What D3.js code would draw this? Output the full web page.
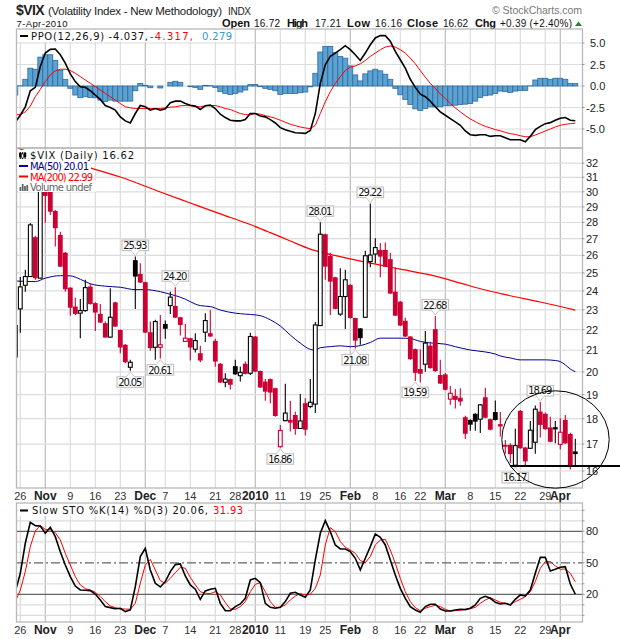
<!DOCTYPE html>
<html><head><meta charset="utf-8">
<script src="https://cdn.jsdelivr.net/npm/d3@7"></script>
<style>html,body{margin:0;padding:0;background:#fff}svg{display:block}</style>
</head><body><div id="c"></div>
<script>
// ---------- categories / ticks ----------
const firstDay = -1, lastDay = 111;          // trading-day numbers, 0 = 26 Oct 2009, 111 = 7 Apr 2010
const tickDays   = [0,5,10,15,20,25,29,34,39,43,47,52,57,61,66,71,76,80,85,90,95,100,105,108];
const tickLabels = ["26","Nov","9","16","23","Dec","7","14","21","28","2010","11","19","25","Feb","8","16","22","Mar","8","15","22","29","Apr"];
const majorLabels = ["Nov","Dec","2010","Feb","Mar","Apr"];
const priceTicks = [16,17,18,19,20,21,22,23,24,25,26,27,28,29,30,31,32];
const ppoTicks = [5,2.5,0,-2.5,-5];
const stoLight = [0,10,30,40,60,70,90,100];
const stoMajor = [80,50,20];

// ---------- candles (day 0 .. 111) ----------
const candleOpen = [23.05,24.31,24.79,27.09,24.70,30.40,30.13,28.74,27.23,26.16,24.18,23.17,22.83,22.96,24.24,23.35,22.79,22.32,21.63,23.39,21.98,21.26,20.21,25.72,24.94,24.48,21.87,21.14,21.14,22.28,23.22,23.20,22.62,21.42,21.58,21.05,20.86,21.87,21.82,21.45,20.37,19.54,19.68,20.26,19.83,20.37,19.94,21.66,20.04,19.57,19.68,19.28,16.90,17.92,17.95,18.15,17.61,18.64,18.50,18.60,22.20,27.27,25.97,24.75,22.78,23.70,24.33,22.58,22.06,22.62,25.64,26.08,26.32,26.32,25.78,23.96,23.43,22.44,21.66,21.05,20.13,20.35,21.22,22.02,19.86,19.89,18.81,18.95,18.87,18.06,17.95,18.20,17.98,18.89,17.98,18.27,17.78,16.97,16.97,16.21,18.32,16.87,16.84,17.07,18.29,18.20,17.65,17.66,16.99,17.95,17.39,16.72];
const candleHigh = [24.77,25.17,27.97,27.17,30.54,30.54,30.27,28.80,27.43,26.20,24.20,23.63,23.57,24.61,24.43,23.40,23.31,22.40,24.15,23.42,22.00,21.30,20.55,25.93,25.55,24.50,22.40,22.49,22.74,22.45,23.96,24.20,22.65,22.28,21.60,21.82,21.21,22.83,22.99,21.55,20.40,19.94,19.70,20.55,20.24,20.47,21.85,21.68,20.06,19.68,19.70,19.30,17.75,19.47,18.74,18.28,19.03,18.85,19.68,22.38,28.01,27.30,26.16,24.78,25.26,25.17,24.36,22.60,22.08,26.28,29.22,27.02,26.73,26.76,26.16,25.32,23.46,22.59,21.68,21.08,21.05,21.93,21.40,22.68,20.55,19.95,19.38,19.25,19.28,18.12,17.97,18.22,18.61,19.30,18.00,18.75,18.27,17.16,17.03,17.60,18.36,16.90,17.91,18.54,18.69,18.25,18.08,17.91,18.02,18.15,17.44,17.21];
const candleLow = [21.84,23.96,24.77,24.61,24.66,27.99,28.48,26.52,25.33,23.96,22.69,22.74,21.58,22.90,23.28,21.93,22.33,21.60,21.60,22.13,20.86,20.40,20.05,23.05,24.44,21.83,20.98,20.55,20.61,21.55,22.79,22.58,21.71,21.40,20.52,20.89,20.44,21.39,21.64,20.23,19.51,19.32,19.22,19.87,19.57,19.89,19.86,19.99,19.29,18.74,18.64,18.08,16.86,17.90,17.49,17.36,17.59,17.33,18.43,18.23,22.18,24.61,22.74,23.03,22.69,22.03,22.56,21.08,21.26,22.60,25.32,25.55,24.75,25.33,23.84,22.68,22.18,21.64,20.56,19.59,19.54,20.01,20.15,20.00,19.46,19.19,18.57,18.42,18.53,17.20,17.52,17.52,17.43,18.02,17.54,17.93,17.29,16.63,16.29,16.17,16.82,16.22,16.82,16.63,17.25,17.56,17.07,17.03,16.80,17.01,16.05,16.16];
const candleClose = [24.22,24.79,27.85,24.70,30.27,29.73,28.69,27.64,25.35,24.09,23.11,22.79,22.96,24.18,23.30,22.86,22.35,21.61,22.62,22.15,21.13,20.44,20.44,24.79,24.46,21.85,21.10,22.40,21.26,22.04,23.67,22.60,22.23,21.58,21.13,21.46,20.52,22.45,21.66,20.47,19.53,19.68,19.43,19.89,19.98,19.91,21.66,20.01,19.31,19.13,19.09,18.11,17.53,18.23,17.84,17.59,17.91,17.56,18.68,22.23,27.27,25.35,24.51,23.05,23.70,24.61,22.58,21.46,21.58,25.98,26.02,26.46,25.93,25.35,23.86,22.70,22.20,21.66,20.58,19.96,19.92,21.34,20.17,20.04,19.48,19.21,19.06,18.78,18.71,17.40,17.76,17.88,18.57,18.04,17.56,17.95,17.69,16.90,16.62,16.94,16.84,16.35,17.54,18.39,17.75,17.58,17.09,17.57,17.46,17.03,16.18,16.62];
// K = up on the day (black), R = down on the day (red)
const candleTone = "KKKRKRRRRR"+"RRKKRRRRKR"+"RRKKRRRKRK"+"KRRRRKRKRR"+"RKRKKRKRRR"+"RRRKRRKRKK"+"KRRRKKRRKK"+"KKRRRRRRRR"+"RKRRRRRRRR"+"KKKRRKRRRK"+"RRKKRRRKRRRK";
const stubWickDay = -0.6, stubWick = [22.23, 20.66];

// ---------- moving averages (read at these days) ----------
const ma50Days = [-1,0,3,5,8,10,12,14,17,20,23,25,28,30,31,33,35,36,38,40,43,45,47,48,50,52,54,56,58,59,60,62,64,66,68,70,72,76,78,80,82,85,87,90,93,95,96,98,100,105,107,108,109,110,111];
const ma50Values = [24.55,24.53,24.51,24.70,24.84,24.83,24.64,24.39,24.26,24.20,24.07,24.07,23.96,23.82,23.75,23.56,23.30,23.22,23.17,22.99,22.83,22.78,22.74,22.70,22.49,22.18,21.73,21.34,21.04,21.01,21.12,21.17,21.21,21.17,21.22,21.37,21.58,21.58,21.56,21.42,21.35,21.29,21.17,21.01,20.92,20.82,20.73,20.64,20.55,20.55,20.52,20.47,20.32,20.13,20.01];
const ma200Days = [-1,0,14,20,28,34,40,46,50,54,58,64,70,76,82,88,93,97,104,111];
const ma200Values = [33.19,33.04,31.66,31.02,29.99,29.26,28.55,27.87,27.37,26.86,26.37,25.93,25.55,25.21,24.88,24.43,24.05,23.80,23.41,22.99];

// ---------- PPO (day -1 .. 111) ----------
const ppoLine = [-4.22,-3.40,-2.42,-0.55,-0.16,2.27,3.83,4.26,4.30,3.63,2.66,1.41,0.51,-0.08,-0.16,-0.55,-1.05,-1.56,-2.27,-2.50,-2.81,-3.59,-4.06,-4.30,-3.20,-2.27,-2.42,-2.81,-2.62,-2.81,-2.66,-1.95,-1.76,-1.76,-2.03,-2.23,-2.34,-2.73,-2.30,-2.23,-2.62,-3.28,-3.67,-3.98,-4.06,-4.06,-3.91,-3.20,-3.20,-3.48,-3.59,-3.91,-4.30,-4.84,-5.08,-5.27,-5.43,-5.47,-5.51,-5.16,-3.20,0.31,2.46,3.44,3.83,4.22,4.69,4.22,3.63,2.97,3.83,4.80,5.59,5.86,5.86,5.20,4.02,3.05,2.07,0.78,-0.16,-0.94,-1.25,-1.76,-2.42,-3.01,-3.40,-3.79,-4.18,-4.57,-5.23,-5.66,-5.74,-5.66,-5.66,-5.86,-5.78,-5.78,-6.02,-6.25,-6.25,-6.25,-6.48,-5.86,-5.08,-4.69,-4.38,-4.26,-3.98,-3.75,-3.67,-3.98,-4.037];
const ppoSignal = [-3.32,-3.32,-3.01,-2.34,-1.25,-0.39,0.51,1.29,1.76,1.95,1.95,1.80,1.48,1.09,0.70,0.31,-0.08,-0.47,-0.86,-1.25,-1.64,-2.03,-2.42,-2.54,-2.62,-2.62,-2.62,-2.62,-2.62,-2.62,-2.54,-2.46,-2.42,-2.30,-2.27,-2.30,-2.38,-2.42,-2.30,-2.27,-2.27,-2.42,-2.62,-2.73,-2.97,-3.20,-3.32,-3.36,-3.20,-3.28,-3.44,-3.59,-3.75,-3.98,-4.22,-4.45,-4.61,-4.77,-4.88,-4.96,-4.57,-3.20,-1.84,-0.66,0.31,1.09,1.80,2.19,2.34,2.58,2.97,3.44,3.83,4.22,4.53,4.65,4.53,4.22,3.83,3.24,2.58,1.80,1.02,0.31,-0.27,-0.94,-1.45,-2.03,-2.54,-3.01,-3.44,-3.83,-4.14,-4.45,-4.69,-4.88,-5.08,-5.20,-5.39,-5.55,-5.63,-5.78,-5.90,-5.90,-5.70,-5.47,-5.23,-5.00,-4.77,-4.57,-4.45,-4.38,-4.317];
const ppoHist = [-1.05,0.02,0.78,2.07,1.95,3.36,3.63,3.63,2.97,1.80,0.78,-0.27,-1.05,-1.37,-1.25,-1.33,-1.37,-1.64,-1.80,-1.64,-1.76,-1.76,-1.76,-1.76,-0.55,0.31,0.08,-0.20,0.00,-0.23,0.00,0.43,0.55,0.43,0.00,-0.08,-0.16,-0.39,0.08,0.04,-0.16,-0.66,-0.86,-0.98,-0.86,-0.70,-0.47,0.16,0.16,-0.08,-0.27,-0.39,-0.55,-0.98,-0.86,-0.86,-0.86,-0.78,-0.70,-0.10,1.48,3.95,4.61,4.61,3.91,3.44,3.24,2.34,1.29,0.59,1.41,1.76,1.95,1.76,1.37,0.78,-0.27,-1.02,-1.56,-2.15,-2.66,-2.85,-2.62,-2.42,-2.42,-2.42,-2.30,-2.30,-2.23,-2.15,-2.11,-2.03,-1.76,-1.33,-1.13,-1.05,-0.86,-0.59,-0.66,-0.74,-0.59,-0.51,-0.51,0.02,0.70,0.90,0.90,0.78,0.90,0.90,0.78,0.31,0.279];

// ---------- Slow stochastic (day -1 .. 111) ----------
const stoK = [22.5,40,68.6,88.6,85.4,85.1,78.1,83.8,74.9,60.6,47.9,36.8,27.9,24.1,23.8,23.5,20.3,14.6,8.3,7.3,6.3,6.7,3.5,5.1,27.3,55.9,63.8,43.2,30.5,27,32.1,41.6,48.3,48.9,37.5,28.9,24.8,15.2,23.2,24.8,25.7,11.4,4.4,4.4,8.3,10.8,16.2,33.7,35.2,31.1,11.4,7.6,6.7,7.6,13,21,21.9,19.4,17.1,24.1,52.7,78.1,90.2,79.7,67,63.2,63.2,60.6,54.3,43.2,54.3,65.4,77.5,74.3,67,52.7,38.4,25.7,16.2,8.3,5.1,2.9,8.3,10.5,10.5,6,4.1,4.1,5.1,5.7,5.4,6.7,9.8,16.2,18.1,16.2,12.4,10.8,11.4,9.8,15.2,19.4,18.4,24.1,40,55.2,55.2,42.2,43.8,45.7,46.3,29.8,20.06];
const stoD = [13,24,41.6,65.4,80.3,85.4,81.9,81.3,78.7,71.7,59,47.9,36.8,28.9,25.4,24.1,21.9,17.8,13,8.9,7.3,6,6,5.7,11.4,30.5,47.9,53.3,43.2,33,30.5,35.2,40.6,45.7,44.8,36.2,28.9,22.5,21,20.6,22.5,19.4,12.1,6,5.7,8.3,13,22.5,29.5,31.1,22.5,13,7.6,7.6,9.8,14.6,18.4,20.6,19.4,20,25.7,38.4,67,83.5,79.7,70.2,64.8,62.2,59,52.1,50.2,55.9,67,71.7,72.4,62.2,49.5,35.2,22.5,13,7.3,4.4,6.7,8.3,9.5,8.3,5.7,4.1,4.4,4.8,5.7,6.3,7.6,11.4,14.6,16.8,14.6,12.4,11.4,10.2,13,15.2,17.8,22.5,32.1,44.8,51.1,51.1,47,43.8,44.1,40,31.93];

// ---------- price callouts ----------
const calloutDays = [23,31,22,28,52,60,70,67,83,79,104,99];
const calloutText = ["25.93","24.20","20.05","20.61","16.86","28.01","29.22","21.08","22.68","19.59","18.69","16.17"];
const calloutAbove = [true,true,false,false,false,true,true,false,true,false,true,false];

// ---------- colours ----------
const RED="#ff0000", CANDLE_RED="#cc0033", NAVY="#000099", GRID="#dcdcdc", GRID_M="#bdbdbd", FRAME="#b8b8b8";

const W=620,H=639, L=17, R=582;
const svg=d3.select("#c").append("svg").attr("width",W).attr("height",H).attr("viewBox",`0 0 ${W} ${H}`);
const sans="'Liberation Sans',Arial,sans-serif", dv="'DejaVu Sans',Verdana,sans-serif";
const x=d3.scaleLinear().domain([0,111]).range([20.3,575.3]);
const days=d3.range(firstDay,lastDay+1);
const yP=d3.scaleLinear().domain([-5,5]).range([129,43]);
const yC=d3.scaleLog().domain([16,32]).range([471,163.2]);
const yS=d3.scaleLinear().domain([20,80]).range([594.3,531.3]);

const panels={ppo:[29,148],price:[148,488],sto:[503,622]};
const defs=svg.append("defs");
Object.entries(panels).forEach(([k,[a,b]])=>{
  defs.append("clipPath").attr("id","cp-"+k).append("rect").attr("x",L).attr("y",a).attr("width",R-L).attr("height",b-a);
});
function frame(k){
  const [a,b]=panels[k], g=svg.append("g");
  tickDays.forEach((d,i)=>{
    g.append("line").attr("x1",x(d)).attr("x2",x(d)).attr("y1",a).attr("y2",b)
     .attr("stroke",majorLabels.includes(tickLabels[i])?GRID_M:GRID).attr("stroke-width",1.2);
  });
  return g;
}
function border(k){
  const [a,b]=panels[k];
  svg.append("rect").attr("x",L-0.5).attr("y",a).attr("width",R-L+1).attr("height",b-a)
     .attr("fill","none").attr("stroke",FRAME).attr("stroke-width",1.3);
}
function hgrid(g,vals,scale,col,dash){
  vals.forEach(v=>g.append("line").attr("x1",L).attr("x2",R).attr("y1",scale(v)).attr("y2",scale(v))
     .attr("stroke",col).attr("stroke-width",1.2).attr("stroke-dasharray",dash||null));
}
function rightTicks(vals,scale){
  vals.forEach(v=>svg.append("line").attr("x1",R).attr("x2",R+2.5).attr("y1",scale(v)).attr("y2",scale(v)).attr("stroke","#999"));
}
function txt(t,xx,yy,o={}){
  const e=svg.append("text").attr("x",xx).attr("y",yy).text(t)
    .attr("font-family",o.f||sans).attr("font-size",o.s||11).attr("fill",o.c||"#000")
    .attr("font-weight",o.b?"bold":"normal").attr("text-anchor",o.a||"start");
  if(o.w) e.attr("textLength",o.w).attr("lengthAdjust","spacing");
  return e;
}
// ---- header ----
txt("$VIX",16,14.5,{s:14,b:true,c:"#222",w:28.5});
txt("(Volatility Index - New Methodology)",48,15,{s:11.5,c:"#222",w:174});
txt("INDX",228,15,{s:10,c:"#222",w:23});
txt("7-Apr-2010",16.5,27,{s:9.5,c:"#111",w:51});
const hdr=[["Open",222,true,28],["16.72",254,false,26],["High",287,true,21],["17.21",315,false,26],["Low",347,true,23],["16.16",375,false,27],["Close",407,true,31],["16.62",443,false,25],["Chg",475,true,21],["+0.39 (+2.40%)",500,false,72]];
hdr.forEach(h=>txt(h[0],h[1],27,{b:h[2],s:h[2]?11:10,c:"#111",w:h[3]}));
svg.append("path").attr("d","M575 26 L578.5 21.5 L582 26 Z").attr("fill","#2e7d32");
txt("© StockCharts.com",492,14,{s:10.5,c:"#777",w:90});

// ---- PPO panel ----
{
  const g=frame("ppo"); hgrid(g,ppoTicks,yP,GRID);
  const c=svg.append("g").attr("clip-path","url(#cp-ppo)");
  c.selectAll("rect").data(days).join("rect")
    .attr("x",d=>x(d)-2.5).attr("width",5)
    .attr("y",(d,i)=>Math.min(yP(ppoHist[i]),yP(0)))
    .attr("height",(d,i)=>Math.abs(yP(ppoHist[i])-yP(0)))
    .attr("fill","#5aa2d0").attr("stroke","#2f6aa0").attr("stroke-width",0.8);
  const ln=d3.line().x((d,i)=>x(days[i])).y(d=>yP(d));
  c.append("path").attr("d",ln(ppoSignal)).attr("fill","none").attr("stroke",RED).attr("stroke-width",1);
  c.append("path").attr("d",ln(ppoLine)).attr("fill","none").attr("stroke","#000").attr("stroke-width",1.6);
  border("ppo");
  rightTicks(ppoTicks,yP);
  ppoTicks.forEach(v=>txt(v.toFixed(1),v<0?586:590,yP(v)+4,{s:11,c:"#222"}));
  svg.append("rect").attr("x",L+1).attr("y",30).attr("width",216).attr("height",12).attr("fill","#fff");
  svg.append("rect").attr("x",20).attr("y",35).attr("width",8).attr("height",2).attr("fill","#000");
  txt("PPO(12,26,9) -4.037,",31,40,{f:dv,s:10,c:"#111",w:117});
  txt("-4.317,",150,40,{f:dv,s:10,c:RED,w:43});
  txt("0.279",202,40,{f:dv,s:10,c:"#3399cc",w:30});
}
// ---- price panel ----
{
  const g=frame("price"); hgrid(g,priceTicks,yC,GRID);
  const c=svg.append("g").attr("clip-path","url(#cp-price)");
  const maLine=(ds)=>d3.line().curve(d3.curveMonotoneX).x((d,i)=>x(ds[i])).y(d=>yC(d));
  c.append("path").attr("d",maLine(ma200Days)(ma200Values)).attr("fill","none").attr("stroke",RED).attr("stroke-width",1.2);
  c.append("path").attr("d",maLine(ma50Days)(ma50Values)).attr("fill","none").attr("stroke",NAVY).attr("stroke-width",1);
  c.append("line").attr("x1",x(stubWickDay)).attr("x2",x(stubWickDay)).attr("y1",yC(stubWick[0])).attr("y2",yC(stubWick[1])).attr("stroke","#000").attr("stroke-width",1);
  const cd=d3.range(0,112);
  const colr=i=>candleTone[i]==="R"?CANDLE_RED:"#000";
  c.selectAll(".w").data(cd).join("line").attr("class","w")
    .attr("x1",i=>x(i)).attr("x2",i=>x(i)).attr("y1",i=>yC(candleHigh[i])).attr("y2",i=>yC(candleLow[i]))
    .attr("stroke",colr).attr("stroke-width",1.1);
  c.selectAll(".b").data(cd).join("rect").attr("class","b")
    .each(function(i){
      const up=candleClose[i]>candleOpen[i];
      const top=yC(Math.max(candleOpen[i],candleClose[i])), bot=yC(Math.min(candleOpen[i],candleClose[i]));
      d3.select(this).attr("x",x(i)-(up?1.9:2.4)).attr("width",up?3.8:4.8)
        .attr("y",top).attr("height",Math.max(bot-top,1))
        .attr("fill",up?"#fff":colr(i)).attr("stroke",up?colr(i):"none").attr("stroke-width",1.1);
    });
  border("price");
  rightTicks(priceTicks,yC);
  priceTicks.forEach(v=>txt(String(v),586,yC(v)+4,{s:11,c:"#222"}));

  // callouts
  calloutDays.forEach((d,i)=>{
    const up=calloutAbove[i], v=+calloutText[i], px=x(d), py=yC(v);
    const h=10.5, w=26.5, gap=6;
    const by=up?py-gap-h:py+gap;
    const tipY=up?py-1:py+1, baseY=up?by+h:by;
    svg.append("rect").attr("x",px-w/2).attr("y",by).attr("width",w).attr("height",h).attr("fill","#fff").attr("stroke","#c4c4c4").attr("stroke-width",1.2);
    svg.append("path").attr("d",`M${px-4} ${baseY} L${px} ${tipY} L${px+4} ${baseY}`).attr("fill","#fff").attr("stroke","#c4c4c4");
    svg.append("line").attr("x1",px-3.4).attr("x2",px+3.4).attr("y1",baseY).attr("y2",baseY).attr("stroke","#fff").attr("stroke-width",1.6);
    txt(calloutText[i],px,by+9,{a:"middle",s:10,c:"#111",f:dv,w:24});
  });

  // legend
  const lg=[[18,150,118,11],[18,161,73,10],[18,171,75,10],[18,181,78,11]];
  lg.forEach(r=>svg.append("rect").attr("x",r[0]).attr("y",r[1]).attr("width",r[2]).attr("height",r[3]).attr("fill","#fff"));
  [20.3,22.7,25].forEach((xx,i)=>{
    svg.append("line").attr("x1",xx).attr("x2",xx).attr("y1",152).attr("y2",159).attr("stroke","#000");
    svg.append("rect").attr("x",xx-1).attr("y",153+(i%2)).attr("width",2).attr("height",4).attr("fill",i==1?"#fff":"#000").attr("stroke","#000").attr("stroke-width",.5);
  });
  txt("$VIX (Daily) 16.62",30,159,{f:dv,s:10,c:"#111",w:104});
  svg.append("rect").attr("x",19).attr("y",165).attr("width",9).attr("height",2).attr("fill",NAVY);
  txt("MA(50) 20.01",30,170,{f:dv,s:10,c:NAVY,w:59});
  svg.append("rect").attr("x",19).attr("y",175.5).attr("width",9).attr("height",2).attr("fill",RED);
  txt("MA(200) 22.99",30,181,{f:dv,s:10,c:RED,w:63});
  [[19.5,4],[21.8,7],[24.1,5],[26.4,6]].forEach(b=>svg.append("rect").attr("x",b[0]).attr("y",191-b[1]).attr("width",1.8).attr("height",b[1]).attr("fill","#666"));
  txt("Volume undef",30,191,{f:dv,s:10,c:"#666",w:62});
}
// ---- x axis labels ----
function xlabels(yy){
  tickDays.forEach((d,i)=>{
    const m=majorLabels.includes(tickLabels[i]);
    txt(tickLabels[i],x(d),yy,{a:"middle",b:m,s:m?12:11,c:m?"#222":"#333"});
  });
}
xlabels(500);
xlabels(634);
// ---- STO panel ----
{
  const g=frame("sto"); hgrid(g,stoLight,yS,GRID);
  hgrid(g,[80,20],yS,"#666");
  hgrid(g,[50],yS,"#666","9 3 2 3");
  const c=svg.append("g").attr("clip-path","url(#cp-sto)");
  const ln=d3.line().x((d,i)=>x(days[i])).y(d=>yS(d));
  c.append("path").attr("d",ln(stoD)).attr("fill","none").attr("stroke",RED).attr("stroke-width",1);
  c.append("path").attr("d",ln(stoK)).attr("fill","none").attr("stroke","#000").attr("stroke-width",1.6);
  border("sto");
  rightTicks(stoLight.concat(stoMajor),yS);
  stoMajor.forEach(v=>txt(String(v),586,yS(v)+4,{s:11,c:"#222"}));
  svg.append("rect").attr("x",L+1).attr("y",504).attr("width",230).attr("height",12).attr("fill","#fff");
  svg.append("rect").attr("x",20).attr("y",509.5).attr("width",8).attr("height",2).attr("fill","#000");
  txt("Slow STO %K(14) %D(3) 20.06,",32,514,{f:dv,s:10,c:"#111",w:176});
  txt("31.93",213,514,{f:dv,s:10,c:RED,w:30});
}
// ---- hand-drawn annotations ----
const annot=svg.append("g");
annot.append("ellipse").attr("cx",555.5).attr("cy",439.5).attr("rx",53.7).attr("ry",48.7).attr("fill","none").attr("stroke","#000").attr("stroke-width",1);
annot.append("line").attr("x1",510).attr("x2",620).attr("y1",466).attr("y2",466).attr("stroke","#000").attr("stroke-width",2.2);
</script></body></html>
